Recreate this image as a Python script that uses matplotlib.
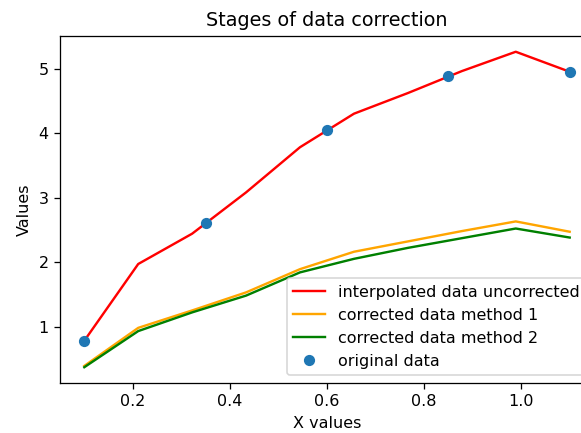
import matplotlib
matplotlib.use("Agg")
import matplotlib.pyplot as plt

# original measurements
x_orig = [0.1, 0.35, 0.6, 0.85, 1.1]
y_orig = [0.78, 2.60, 4.04, 4.88, 4.95]

# interpolation grid, 10 points from 0.1 to 1.1
x_interp = [0.1, 0.2111, 0.3222, 0.4333, 0.5444, 0.6556, 0.7667, 0.8778, 0.9889, 1.1]
y_uncorrected = [0.78, 1.97, 2.44, 3.08, 3.78, 4.30, 4.62, 4.96, 5.26, 4.95]
y_method1 = [0.39, 0.98, 1.25, 1.53, 1.89, 2.16, 2.32, 2.48, 2.63, 2.47]
y_method2 = [0.37, 0.93, 1.22, 1.48, 1.84, 2.05, 2.22, 2.37, 2.52, 2.38]

DPI = 115
fig = plt.figure(figsize=(581 / DPI, 433 / DPI), dpi=DPI)
# axes runs a bit past the right edge of the canvas
ax = fig.add_axes([0.1033, 0.1155, 0.919, 0.8014])

ax.plot(x_interp, y_uncorrected, color="red", label="interpolated data uncorrected")
ax.plot(x_interp, y_method1, color="orange", label="corrected data method 1")
ax.plot(x_interp, y_method2, color="green", label="corrected data method 2")
ax.plot(x_orig, y_orig, "o", color="tab:blue", label="original data")

ax.set_title("Stages of data correction")
ax.set_xlabel("X values")
ax.set_ylabel("Values")
ax.legend(loc="lower right")

fig.savefig("out.png", dpi=DPI)
